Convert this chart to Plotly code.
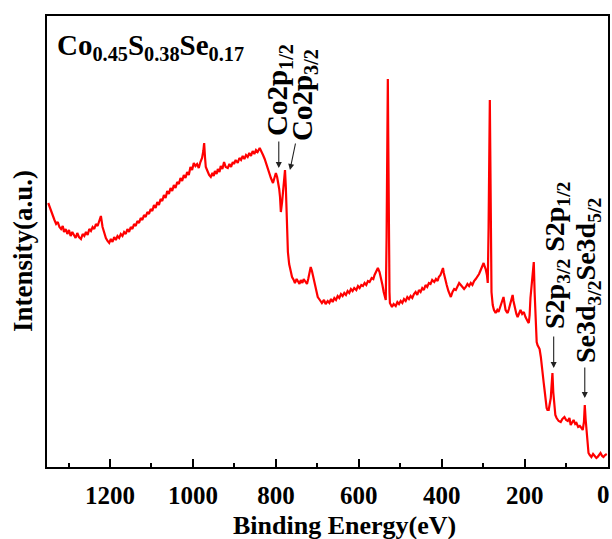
import plotly.graph_objects as go

# ---- data (binding energy in eV, intensity in arbitrary units) ----
energy_high = [1349,1345,1342,1338,1334,1330,1326,1322,1318,1314,1311,1307,1303,1299,1295,1291,1287,1283,1279,1275,
               1270,1266,1262,1258,1254,1250,1246,1242,1238,1234,1230,1226,1222,1218,1214,1210,1206,1202,1198,1194,
               1190,1186,1182,1178,1174,1170,1166,1162,1158,1154,1150,1146,1142,1138,1134,1130,1126,1122,1118,1114,
               1110,1106,1102,1098,1094,1090,1086,1082,1078,1074,1070,1066,1062,1058,1054,1050,1046,1042,1038,1034,
               1030,1026,1022,1018,1014,1010,1006]
intensity_high = [264,259,255,250,247,243,245,240,238,241,235,238,233,237,231,235,232,229,234,230,
                  228,233,231,235,232,238,236,240,238,243,241,246,251,240,234,229,226,224,228,225,
                  230,227,231,229,233,231,235,233,238,235,240,238,243,241,246,244,249,247,252,250,
                  255,253,258,256,262,259,265,262,268,266,272,269,276,273,279,276,282,279,285,283,
                  289,286,292,289,295,292,300]

energy_plateau = [1002,998,994,990,986,982,978,975,973,971,969,965,961,957,953,950,947,943,940,936,
                  933,929,925,921,916,912,908,904,901,897,892,888,884,880,876,872,868,864,860,856,
                  852,848,844,839,835]
intensity_plateau = [297,304,301,303,299,305,309,316,324,310,300,296,292,290,294,291,296,293,298,295,
                     301,298,305,300,299,303,300,305,303,307,304,309,307,311,308,312,310,314,311,316,
                     313,317,315,319,316]

energy_co = [831,827,824,820,817,812,807,803,800,797,795,792,790,788,785,783,780,778,776,774,
             771,768,766,763,761,757,754,750,747,743,740,736,733,729,725,722,720,718,716,713,
             711,708,706,703,699]
intensity_co = [312,308,304,299,294,289,284,289,294,290,286,278,270,255,265,274,288,297,280,254,
                215,203,199,193,190,187,184,188,186,183,187,184,188,185,183,188,192,197,200,196,
                192,186,182,176,170]

energy_o = [694,689,684,680,675,671,667,663,659,655,651,647,643,639,635,631,627,623,619,615,
            611,606,602,598,594,590,586,582,578,574,569,565,562,559,556,554,550,547,543,540,
            537,535,533,531,530,529,528,526,525]
intensity_o = [167,164,167,163,166,164,168,165,169,167,171,169,173,171,174,172,176,174,178,176,
               179,177,181,179,182,181,184,182,186,185,189,188,192,195,198,199,195,190,182,175,
               170,167,230,330,388,330,230,175,164]

energy_c = [522,520,516,511,507,503,499,495,491,487,483,479,475,471,467,463,459,455,451,447,
            443,439,435,431,427,423,418,414,410,407,403,400,397,395,392,388,384,381,378,374,
            370,366,362,358,354,350,346,342,338,334,330,326,322,318,314,310,306,302,299,296,
            294,291,289,287,285,284,283,282,280]
intensity_c = [162,160,163,161,165,163,166,164,168,166,170,168,171,169,173,175,172,177,175,179,
               177,182,180,184,183,187,185,188,186,190,192,195,199,194,188,182,176,172,170,175,
               178,177,181,184,182,180,178,180,183,181,184,182,186,188,190,193,197,201,204,200,
               198,192,184,240,320,367,320,230,175]

energy_low = [277,274,270,266,263,259,255,251,248,246,243,241,238,234,231,229,227,224,220,217,
              213,210,206,202,198,195,192,190,188,186,184,183,181,178,176,174,173,171,169,166,
              164,161,159,157,154,152,150,147,145,142,140,137,135,133,131,128,126,123,118,113,
              109,104,100,96,92,89,85,82,78,75,71,67,63,60,57,55,53,51,48,46,
              43,39,35,31,27,24,20,17,13,10,6,2]
intensity_low = [162,157,154,157,155,160,164,170,162,157,155,154,158,165,170,172,166,159,153,150,
                 154,157,153,155,150,147,145,144,152,169,180,184,195,205,175,157,135,125,122,120,
                 118,110,100,92,84,77,68,59,57,57,62,69,82,94,75,57,52,49,46,45,
                 48,50,47,46,49,42,45,47,43,44,40,41,39,37,45,62,48,39,25,14,
                 12,10,13,11,9,10,13,14,11,10,12,13]

x_ticks = [1200, 1000, 800, 600, 400, 200, 0]
x_tick_labels = ["1200", "1000", "800", "600", "400", "200", ""]
edge_tick_label = "0"
x_minor = [1300, 1100, 900, 700, 500, 300, 100]

# peak arrows: (head energy, head intensity, tail energy, tail intensity)
peak_arrows = [
    (793, 299, 793, 327),
    (766, 297, 752, 325),
    (130, 99, 130, 132),
    (55, 69, 55, 101),
]

energy = energy_high + energy_plateau + energy_co + energy_o + energy_c + energy_low
intensity = intensity_high + intensity_plateau + intensity_co + intensity_o + intensity_c + intensity_low

FONT = "Liberation Serif"

fig = go.Figure()
fig.add_trace(go.Scatter(x=energy, y=intensity, mode="lines",
                         line=dict(color="#ff0000", width=2.2),
                         showlegend=False, hoverinfo="skip"))

fig.update_layout(
    width=612, height=539,
    margin=dict(l=47, r=4, t=16, b=72, autoexpand=False),
    paper_bgcolor="white", plot_bgcolor="white",
    font=dict(family=FONT, color="black", size=24, weight="bold"),
)

fig.update_xaxes(
    range=[1352, -1], tickvals=x_ticks, ticktext=x_tick_labels,
    ticks="inside", ticklen=8, tickwidth=1.5, tickcolor="black",
    minor=dict(tickvals=x_minor, ticks="inside", ticklen=4, tickwidth=1.5, tickcolor="black"),
    showline=True, linecolor="black", linewidth=1.5, mirror=True,
    showgrid=False, zeroline=False, automargin=False, ticklabelstandoff=5,
    tickfont=dict(family=FONT, size=25, weight="bold", color="black"),
)
fig.update_yaxes(
    range=[0, 451], showticklabels=False, ticks="",
    showline=True, linecolor="black", linewidth=1.5, mirror=True,
    showgrid=False, zeroline=False, automargin=False,
)

annos = [
    dict(text=edge_tick_label, x=(603 - 47) / 561, y=(467 - 494) / 451, angle=0, size=25),
    dict(text="Binding Energy(eV)", x=(344 - 47) / 561, y=(467 - 525) / 451, angle=0, size=26),
    dict(text="Intensity(a.u.)", x=(23 - 47) / 561, y=(467 - 251) / 451, angle=-90, size=27),
    dict(text="Co<sub>0.45</sub>S<sub>0.38</sub>Se<sub>0.17</sub>", x=(150 - 47) / 561, y=(467 - 47) / 451, angle=0, size=29),
    dict(text="Co2p<sub>1/2</sub>", x=(279 - 47) / 561, y=(467 - 90) / 451, angle=-90, size=29),
    dict(text="Co2p<sub>3/2</sub>", x=(304 - 47) / 561, y=(467 - 95) / 451, angle=-90, size=29),
    dict(text="S2p<sub>3/2</sub> S2p<sub>1/2</sub>", x=(556 - 47) / 561, y=(467 - 256) / 451, angle=-90, size=28),
    dict(text="Se3d<sub>3/2</sub>Se3d<sub>5/2</sub>", x=(587 - 47) / 561, y=(467 - 281) / 451, angle=-90, size=28),
]
for a in annos:
    fig.add_annotation(text=a["text"], xref="paper", yref="paper", x=a["x"], y=a["y"],
                       xanchor="center", yanchor="middle", textangle=a["angle"],
                       showarrow=False,
                       font=dict(family=FONT, size=a["size"], weight="bold", color="black"))

for hx, hy, tx, ty in peak_arrows:
    fig.add_annotation(x=hx, y=hy, ax=tx, ay=ty, xref="x", yref="y", axref="x", ayref="y",
                       text="", showarrow=True, arrowhead=2, arrowsize=1.1, arrowwidth=1.1,
                       arrowcolor="#222222")

fig.write_html("out.html", config={"displayModeBar": False},
               post_script="document.body.style.margin='0';document.body.style.padding='0';")
